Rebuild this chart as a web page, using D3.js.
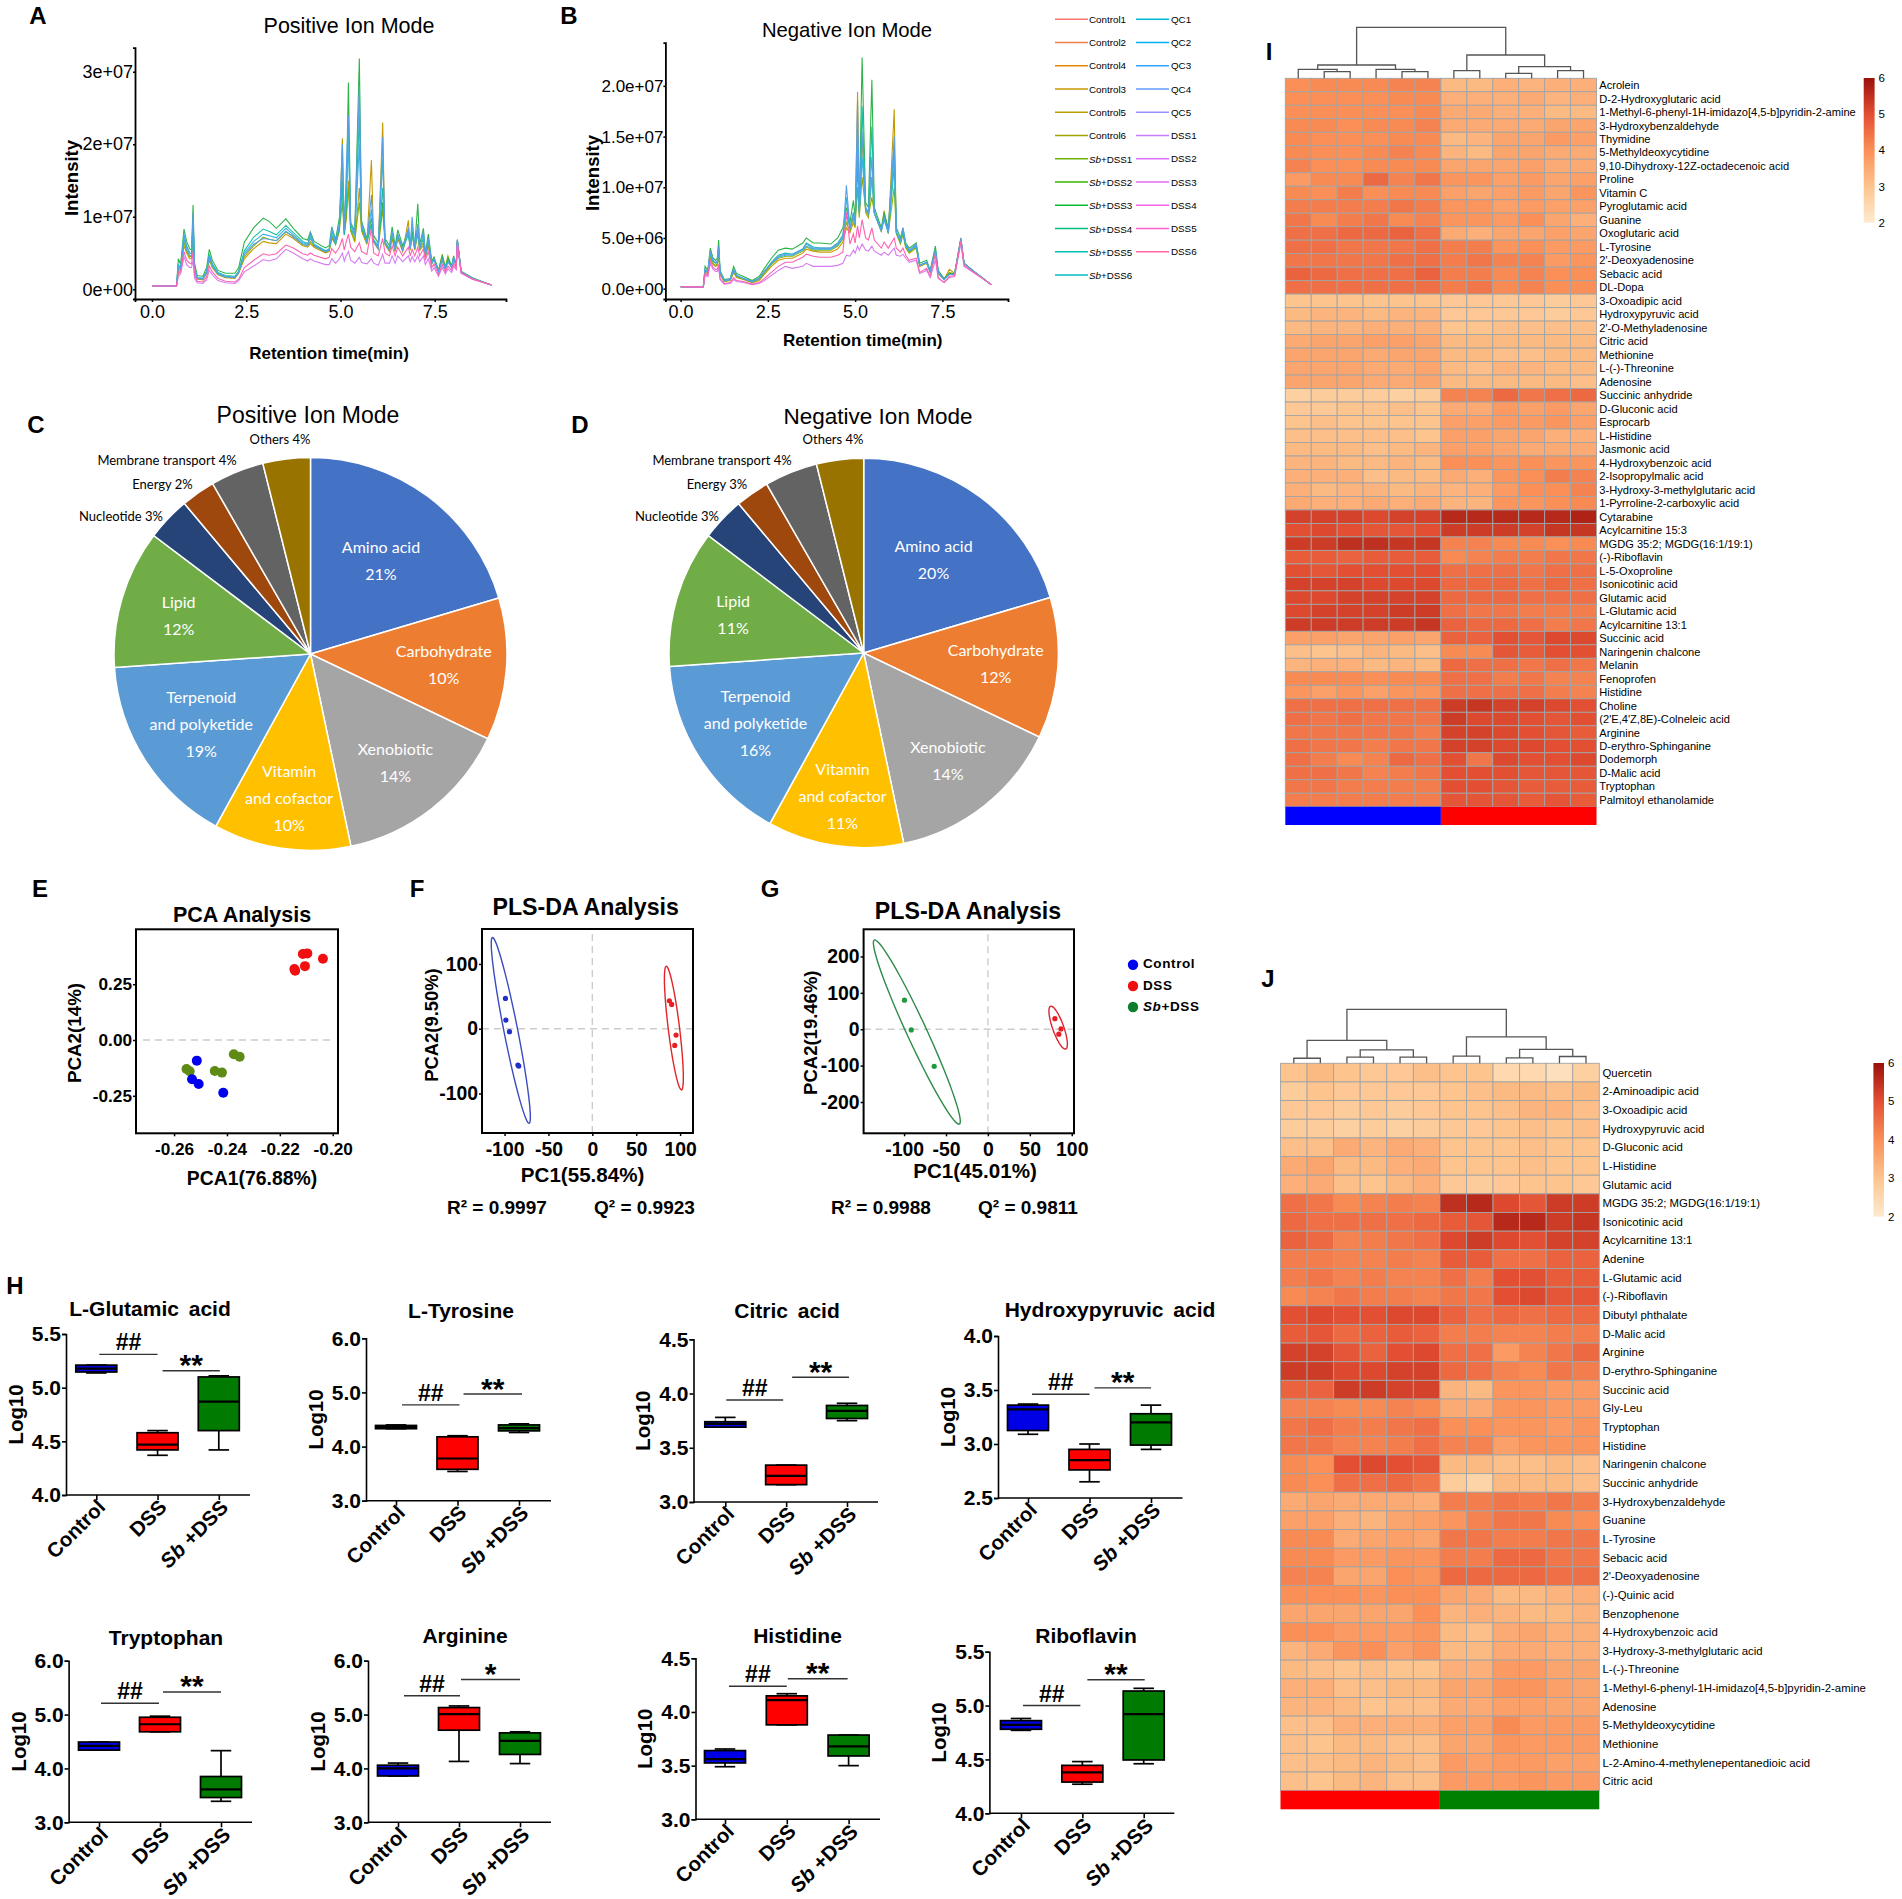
<!DOCTYPE html>
<html>
<head>
<meta charset="utf-8">
<script src="https://cdn.jsdelivr.net/npm/d3@7"></script>
<style>
  body { margin: 0; background: #fff; }
  text { font-family: "Liberation Sans", Arial, sans-serif; fill: #000; }
  .pie text { font-family: Lato, "Liberation Sans", sans-serif; }
</style>
</head>
<body>
<svg id="fig" width="1902" height="1899"></svg>
<script>
// Chromatograms, intensity in units of 1e6
const posRt = [0,0.65,0.7,0.76,0.85,0.92,1.0,1.05,1.09,1.13,
  1.2,1.35,1.45,1.52,1.6,1.75,1.95,2.2,2.3,2.45,
  2.7,2.95,3.1,3.3,3.55,3.75,4.0,4.13,4.2,4.3,
  4.6,4.7,4.77,4.87,4.97,5.05,5.1,5.15,5.21,5.27,
  5.38,5.5,5.56,5.7,5.82,5.88,6.0,6.12,6.18,6.3,
  6.37,6.45,6.52,6.65,6.8,6.85,6.9,6.97,7.05,7.1,
  7.2,7.25,7.33,7.42,7.48,7.6,7.7,7.78,7.85,7.95,
  8.0,8.07,8.1,8.2,8.5,9.0];
const posGold = [.45,.45,2,2.6,6,5,4.2,4.2,7.5,2.6,
  1.4,1.3,2.2,4,3,2,1.6,1.5,2.2,4.2,
  5.6,6.6,6.4,6.3,7.6,7,6,5.8,6.3,5.8,
  5,5.2,7,6.2,8,20.8,7.5,10,15,8,
  6.5,14,8,6.2,17.8,6.5,5.5,23,6.2,5.2,
  7,5.2,7,5.2,9.5,5.4,8,5.4,8,5.4,
  6,4.4,6,3.5,4.4,2.6,4.8,3,4.6,3,
  4.4,3.2,6.8,2.4,1.5,.6];
const posLime = [.45,.45,2.6,2.8,6.5,5.3,4.5,4.5,8,2.8,
  1.5,1.4,2.3,4.3,3.1,2.1,1.7,1.6,2.3,4.5,
  6,7.2,6.9,6.7,7.9,7.3,6.2,6,6.6,6,
  5.1,5.3,7.2,6.3,8.2,12,7.7,9.5,14,8.2,
  6.8,12,8.2,6.4,9,6.6,5.7,11,6.3,5.3,
  7.2,5.3,7.2,5.3,8,5.5,7.6,5.5,7.6,5.5,
  6.4,4.5,6.2,3.5,4.2,2.5,4.4,2.9,4.2,3,
  4.3,3.2,6.7,2.4,1.5,.6];
const posGreen = [.45,.45,4.2,3.4,8.3,6.6,5.6,5.4,11.6,3.6,
  1.9,1.8,3,5.5,4,2.6,2.2,2.2,3,6.5,
  8.5,9.8,9.4,8.4,9.7,8.4,7,6.8,7.9,6.6,
  5.7,6,8.6,6.8,9.8,15,8.2,12,28.5,9.2,
  8,31.8,9.4,7,9.8,7.4,6.4,12,7,6,
  8.6,6,8.2,6,8,6.2,8,6,11.8,6.2,
  8.4,5,7.6,3.9,4.4,2.6,4.6,3,4.4,3.2,
  4.6,3.5,6.6,2.5,1.6,.6];
const posTeal = [.45,.45,3.4,3,7.2,5.8,5,4.9,9,3,
  1.6,1.5,2.5,4.8,3.5,2.3,1.9,1.8,2.5,5.3,
  7.2,8.3,8,7.5,8.8,7.8,6.6,6.3,7,6.2,
  5.3,5.5,7.5,6.2,8.5,14,7.5,11,22,8.3,
  7.4,24,8.5,6.5,9,6.8,6,14,6.5,5.6,
  7.8,5.6,7.5,5.6,7.5,5.8,7.5,5.6,8.5,5.6,
  7,4.6,6.8,3.6,4,2.4,4.2,2.8,4,3,
  4.2,3.3,6.6,2.4,1.5,.6];
const posSky = [.45,.45,3.2,2.9,7.6,6,5,4.9,9.5,3,
  1.6,1.5,2.4,4.7,3.4,2.2,1.8,1.7,2.4,5,
  6.6,7.6,7.4,7.1,8.4,7.5,6.4,6.2,7.4,6.1,
  5.3,5.5,8,6.5,9,18,8.2,13,20,8.8,
  7.6,20,8.8,6.6,11,6.7,5.8,18,6.5,5.5,
  7.8,5.5,7.4,5.5,8.2,5.7,9,5.7,8.4,5.7,
  7.6,4.7,6.8,3.6,4.1,2.5,4,2.8,3.8,3,
  4.4,3.2,6.8,2.4,1.5,.6];
const posBlue = [.45,.45,3,2.8,7,5.4,4.7,4.6,10.5,2.8,
  1.5,1.4,2.3,4.5,3.2,2.1,1.7,1.6,2.3,4.8,
  6.2,7,6.9,6.7,8,7.2,6.2,6,7.8,6,
  5.2,5.4,8.5,6.4,8.8,20,8,15.8,24,9,
  7.5,28,9,6.5,13,6.6,5.6,21,6.4,5.4,
  8,5.4,7.6,5.4,8.5,5.6,10,5.6,9,5.6,
  8,4.7,7,3.6,4.2,2.5,4,2.8,3.8,3,
  4.4,3.2,6.9,2.4,1.5,.6];
const posViolet = [.45,.45,1.8,2.1,4.5,3.4,3,3,4,1.5,
  .9,.8,1.3,2.6,2,1.2,.9,.8,1.2,2.4,
  3.2,4.1,3.9,4.2,5.5,5,4.2,3.9,4.2,3.9,
  3.4,3.4,4.2,3.6,4.2,5,3.9,4.6,5.2,4,
  3.6,4.4,3.7,3.5,4.2,3.6,3.3,4.8,3.6,3.6,
  4.6,3.6,4.6,3.8,4.6,3.8,4.5,3.8,4.6,3.8,
  4.6,3.4,4.2,2.5,3,1.8,3,2.1,2.8,2.3,
  3.2,2.7,6.2,2.2,1.4,.6];
const posPink = [.45,.45,2.4,2.4,5.2,4,3.6,3.5,5.2,2,
  1.1,1,1.7,3.2,2.4,1.5,1.1,1,1.4,3,
  4,4.9,4.7,4.9,6.1,5.7,4.9,4.7,5,4.7,
  4.2,4.4,5.6,5,5.8,7,5.4,6.5,7.6,5.8,
  5.2,6.4,5.2,4.8,8.4,5,4.6,7,5,4.6,
  6,4.6,5.8,4.6,5.8,4.6,5.5,4.6,5.8,4.6,
  5.6,4,5.2,3,3.5,2,3.4,2.4,3.2,2.6,
  3.6,2.9,6.4,2.3,1.4,.6];

const negRt = [0,.65,.7,.78,.85,.93,1.0,1.05,1.09,1.13,
  1.25,1.42,1.52,1.6,1.8,2.05,2.25,2.4,2.6,2.8,
  3.0,3.2,3.5,3.6,3.8,4.0,4.3,4.5,4.65,4.75,
  4.85,4.95,5.0,5.07,5.12,5.2,5.3,5.38,5.48,5.55,
  5.75,5.83,5.95,6.12,6.18,6.3,6.37,6.45,6.55,6.75,
  6.85,7.05,7.15,7.3,7.38,7.55,7.7,7.85,8.03,8.12,
  8.4,8.9];
const negGold = [.2,.15,1.6,1.5,3,2.4,2.2,2.3,3.4,1.4,
  .7,.8,1.6,1.1,.9,.6,.8,1.4,2.2,2.8,
  3,3,3.5,3.9,3.7,3.6,3.6,3.9,4.6,6,
  5.5,6.5,6,19.4,7,15,7.5,7,11,7.5,
  5.6,7.7,5.4,17.7,5.4,4.4,5.4,4,3.5,4,
  2.2,2.5,1.6,3.6,1.5,.9,1.9,1.5,5,2.5,
  1.7,.4];
const negLime = [.2,.15,1.7,1.6,3.2,2.5,2.3,2.4,3.6,1.5,
  .75,.85,1.7,1.2,.95,.65,.9,1.5,2.4,3,
  3.2,3.2,3.7,4.1,3.8,3.8,3.8,4.2,4.9,6.5,
  5.7,7,6.2,10,7.2,11,7.8,7.2,9,7.5,
  5.7,7.2,5.5,10,5.5,4.5,5.5,4.1,3.6,4.1,
  2.25,2.55,1.65,3.7,1.55,.9,1.6,1.45,4.9,2.5,
  1.7,.4];
const negGreen = [.2,.15,2.2,1.8,4,3,2.8,3,4.8,1.8,
  .9,1,2.2,1.5,1.2,.8,1.2,2,3,3.8,
  4,3.9,4.5,5,4.5,4.5,4.4,5,6,8,
  6.5,8.7,7,14,8,22.8,8.5,8,20.6,8,
  6,7.5,6,14,6,5,6,4.5,4,4.5,
  2.5,2.8,1.8,4.2,1.8,1,1.5,1.5,4.8,2.5,
  1.7,.4];
const negTeal = [.2,.15,1.8,1.6,3.5,2.7,2.5,2.6,4,1.6,
  .8,.9,1.9,1.3,1,.7,1,1.7,2.6,3.3,
  3.5,3.4,3.9,4.5,4.1,4,4,4.5,5.3,7.5,
  6,7.5,6.5,12,7.5,18,8,7.5,16,7.5,
  5.8,7,5.6,12,5.6,4.6,5.6,4.2,3.7,4.2,
  2.3,2.6,1.7,3.8,1.6,.9,1.4,1.4,4.8,2.5,
  1.7,.4];
const negSky = [.2,.15,1.85,1.65,3.6,2.75,2.55,2.65,4.1,1.6,
  .8,.9,1.85,1.3,1,.7,1,1.7,2.5,3.1,
  3.3,3.3,3.8,4.2,3.9,3.9,3.9,4.3,5,9,
  5.9,7.3,6.3,15,7.4,13,7.9,7.4,11,7.4,
  5.7,6.8,5.5,13,5.5,4.7,5.8,4.3,3.7,4.3,
  2.3,2.55,1.65,3.7,1.55,.9,1.4,1.4,4.9,2.5,
  1.7,.4];
const negBlue = [.2,.15,1.9,1.7,3.7,2.8,2.6,2.7,4.2,1.6,
  .8,.9,1.9,1.3,1,.7,1,1.7,2.5,3.2,
  3.4,3.4,3.9,4.4,4,4,4,4.4,5.2,10.2,
  6,7.5,6.5,18.5,7.5,15.5,8,7.5,13,7.5,
  5.8,7,5.6,15,5.6,4.8,6,4.4,3.8,4.4,
  2.3,2.6,1.7,3.8,1.6,.9,1.4,1.4,5,2.5,
  1.7,.4];
const negViolet = [.2,.15,1.3,1.2,2.5,1.9,1.7,1.7,2,.9,
  .45,.5,.9,.7,.6,.4,.5,.8,1.3,1.8,
  2.2,2,2.2,2.5,2.2,2.2,2.2,2.3,2.5,3.3,
  3.2,3.8,3.5,4.2,3.8,4.4,3.8,3.7,4.2,3.7,
  3.3,3.6,3.3,4,3.3,3.2,3.4,3,2.6,2.8,
  1.5,1.8,1.1,2.8,1,.6,1.1,1.2,4.5,2.2,
  1.6,.4];
const negPink = [.2,.15,1.5,1.3,2.8,2.1,1.9,1.9,2.4,1,
  .5,.6,1.1,.8,.7,.45,.6,1,1.6,2.2,
  2.6,2.6,3.1,3.4,3.2,3.1,3.1,3.3,3.6,7.5,
  4.4,5.4,4.5,6.2,5,6.8,5,4.8,6,4.8,
  4,4.6,4,5,4,3.6,4,3.3,2.8,3,
  1.6,2,1.2,3.4,1.1,.6,1.2,1.3,4.7,2.3,
  1.6,.4];
const traceColors = ['#C49A00','#8DB000','#2DB34A','#19BFA5','#35B4E8','#5A9FE6','#D77CF0','#FF62B0'];

const legendLeft = ['Control1','Control2','Control4','Control3','Control5','Control6','Sb+DSS1','Sb+DSS2','Sb+DSS3','Sb+DSS4','Sb+DSS5','Sb+DSS6'];
const legendLeftColors = ['#F8766D','#EF7F4A','#E58700','#C99800','#BA9E00','#A3A500','#6BB100','#39B600','#00BA38','#00BF7D','#00C0AF','#00BCC4'];
const legendRight = ['QC1','QC2','QC3','QC4','QC5','DSS1','DSS2','DSS3','DSS4','DSS5','DSS6'];
const legendRightColors = ['#00BCD8','#00B0F6','#35A2FF','#619CFF','#9590FF','#C77CFF','#DB72FB','#E76BF3','#F564E3','#FF61CC','#FF67A4'];

// Pies: the printed percentages, and the slice shares as actually drawn (same in both pies)
const pathways = ['Amino acid','Carbohydrate','Xenobiotic','Vitamin and cofactor','Terpenoid and polyketide','Lipid','Nucleotide','Energy','Membrane transport','Others'];
const pieColors = ['#4472C4','#ED7D31','#A5A5A5','#FFC000','#5B9BD5','#70AD47','#264478','#9E480E','#636363','#997300'];
const piePos = [21,10,14,10,19,12,3,2,4,4];
const pieNeg = [20,12,14,11,16,11,3,3,4,4];
const pieShares = [20.4,11.7,14.6,11.3,15.9,11.4,3.6,2.8,4.4,3.9];

// Score plots
const pcaControl = [[-.2514,-.0925],[-.2532,-.176],[-.2507,-.197],[-.2414,-.236]];
const pcaDss = [[-.2145,.318],[-.2142,.310],[-.2113,.385],[-.2096,.388],[-.2105,.331],[-.2037,.364]];
const pcaSb = [[-.2553,-.130],[-.2541,-.140],[-.2446,-.139],[-.2419,-.146],[-.2374,-.064],[-.2352,-.075]];
const plsFControl = [[-99,46.8],[-98.5,13.4],[-94.4,-4.6],[-84.8,-56],[-83.8,-57.6]];
const plsFDss = [[87.8,43.2],[90.4,37.5],[95.4,-9.8],[93.9,-25.7]];
const plsGSb = [[-99.6,80],[-91.5,-1.8],[-64.1,-101.8]];
const plsGDss = [[79.9,29],[87.2,.9],[84.6,-13.6]];
// ellipse: centre x, centre y, major axis x, major axis y, half width along x
const ellFControl = [-92.9,-2.6,-20.8,143.5,8];
const ellFDss = [92.9,1,-8.6,95.5,6.5];
const ellGSb = [-84.8,-7.7,-50.2,253.2,13];
const ellGDss = [83.8,4.5,-8.5,59,7];

// Box plots: min, q1, median, q3, max for Control, DSS, Sb+DSS
const groups = ['Control','DSS','Sb +DSS'];
const boxColors = ['#0000E6','#FF0000','#007A00'];
const boxGlutamic = [[5.137,5.146,5.177,5.21,5.21],[4.37,4.42,4.47,4.58,4.60],[4.42,4.60,4.87,5.10,5.11]];
const boxTyrosine = [[4.33,4.33,4.36,4.39,4.40],[3.54,3.58,3.78,4.18,4.20],[4.26,4.29,4.34,4.40,4.42]];
const boxCitric = [[3.69,3.69,3.72,3.74,3.78],[3.16,3.16,3.24,3.34,3.34],[3.75,3.77,3.84,3.89,3.91]];
const boxHydroxypyruvic = [[3.09,3.125,3.32,3.36,3.37],[2.65,2.76,2.85,2.95,3.0],[2.95,2.99,3.2,3.28,3.36]];
const boxTryptophan = [[4.34,4.34,4.42,4.49,4.49],[4.68,4.68,4.82,4.95,4.97],[3.39,3.46,3.61,3.85,4.33]];
const boxArginine = [[3.86,3.86,4.0,4.06,4.10],[4.13,4.71,5.01,5.13,5.16],[4.09,4.26,4.51,4.66,4.68]];
const boxHistidine = [[3.49,3.525,3.56,3.64,3.655],[3.88,3.88,4.11,4.15,4.17],[3.5,3.59,3.68,3.785,3.785]];
const boxRiboflavin = [[4.77,4.78,4.82,4.86,4.88],[4.27,4.29,4.38,4.445,4.48],[4.46,4.495,4.92,5.135,5.16]];

// Heatmaps
const heatILabels = ['Acrolein','D-2-Hydroxyglutaric acid','1-Methyl-6-phenyl-1H-imidazo[4,5-b]pyridin-2-amine','3-Hydroxybenzaldehyde','Thymidine','5-Methyldeoxycytidine','9,10-Dihydroxy-12Z-octadecenoic acid','Proline','Vitamin C','Pyroglutamic acid','Guanine','Oxoglutaric acid','L-Tyrosine',"2'-Deoxyadenosine",'Sebacic acid','DL-Dopa','3-Oxoadipic acid','Hydroxypyruvic acid',"2'-O-Methyladenosine",'Citric acid','Methionine','L-(-)-Threonine','Adenosine','Succinic anhydride','D-Gluconic acid','Esprocarb','L-Histidine','Jasmonic acid','4-Hydroxybenzoic acid','2-Isopropylmalic acid','3-Hydroxy-3-methylglutaric acid','1-Pyrroline-2-carboxylic acid','Cytarabine','Acylcarnitine 15:3','MGDG 35:2; MGDG(16:1/19:1)','(-)-Riboflavin','L-5-Oxoproline','Isonicotinic acid','Glutamic acid','L-Glutamic acid','Acylcarnitine 13:1','Succinic acid','Naringenin chalcone','Melanin','Fenoprofen','Histidine','Choline',"(2'E,4'Z,8E)-Colneleic acid",'Arginine','D-erythro-Sphinganine','Dodemorph','D-Malic acid','Tryptophan','Palmitoyl ethanolamide'];
const heatIValues = [
[4.0,4.1,4.1,4.1,4.2,4.2,3.2,3.2,3.4,3.3,3.4,3.4],
[4.0,4.0,4.0,4.0,4.1,4.1,3.4,3.4,3.4,3.5,3.3,3.4],
[4.0,4.0,4.0,4.0,4.0,4.1,3.5,3.5,3.4,3.4,3.2,3.2],
[4.1,4.1,4.0,4.1,4.1,4.2,3.5,3.5,3.5,3.5,3.6,3.6],
[4.1,4.0,4.0,4.0,4.1,4.1,3.2,3.3,3.6,3.6,3.8,3.7],
[4.1,4.0,4.0,4.1,4.2,4.1,3.3,3.2,3.6,3.6,3.5,3.5],
[4.2,4.0,4.0,4.1,4.1,4.1,3.6,3.6,3.6,3.7,3.5,3.5],
[3.8,4.1,4.1,4.6,4.2,4.4,3.9,3.9,3.7,3.8,3.6,3.7],
[4.1,4.0,4.3,4.0,4.1,4.1,3.7,3.6,3.7,3.8,3.6,3.9],
[4.3,4.3,4.3,4.3,4.4,4.3,3.9,3.9,3.7,3.8,3.7,3.7],
[4.4,4.1,4.3,4.4,4.1,4.2,3.9,3.9,3.8,4.0,3.6,3.4],
[4.5,4.5,4.6,4.6,4.7,4.5,3.5,3.4,3.6,3.6,3.7,3.6],
[4.5,4.5,4.4,4.4,4.4,4.5,4.3,4.3,3.9,4.0,3.8,3.8],
[4.4,4.4,4.4,4.4,4.5,4.5,4.3,4.4,4.2,4.2,3.8,3.9],
[4.7,4.6,4.5,4.5,4.5,4.7,4.3,4.3,4.1,4.2,4.0,4.0],
[4.5,4.5,4.5,4.5,4.5,4.5,4.3,4.4,4.1,4.2,4.0,4.0],
[3.0,3.0,3.0,3.0,3.0,3.0,2.9,2.9,2.9,2.9,2.8,2.9],
[3.2,3.3,3.3,3.2,3.3,3.3,2.9,2.9,2.9,2.9,2.8,2.9],
[3.2,3.3,3.3,3.4,3.4,3.4,3.0,3.0,3.1,3.1,3.1,3.1],
[3.5,3.6,3.6,3.7,3.7,3.6,3.2,3.2,3.2,3.2,3.2,3.2],
[3.6,3.6,3.6,3.5,3.6,3.6,3.2,3.2,3.1,3.1,3.2,3.2],
[3.6,3.6,3.6,3.5,3.5,3.6,3.2,3.1,3.3,3.3,3.2,3.2],
[3.6,3.6,3.6,3.5,3.5,3.6,3.2,3.2,3.2,3.2,3.2,3.1],
[2.7,2.8,2.8,2.8,2.7,2.8,4.2,4.2,4.6,4.4,4.5,4.6],
[2.9,2.9,3.0,3.0,3.1,3.0,3.5,3.5,3.8,3.7,3.8,3.6],
[3.0,3.1,3.0,3.0,3.0,3.0,3.7,3.7,3.8,3.8,3.9,3.7],
[3.1,3.1,3.1,3.1,3.1,3.0,3.7,3.7,3.6,3.6,3.4,3.4],
[3.2,3.2,3.2,3.1,3.2,3.3,3.7,3.7,3.6,3.5,3.5,3.5],
[3.3,3.3,3.2,3.2,3.3,3.2,4.0,4.0,3.9,4.0,3.9,3.9],
[3.4,3.4,3.4,3.1,3.2,3.2,3.5,3.4,3.9,4.0,4.3,4.2],
[3.4,3.2,3.3,3.3,3.2,3.3,3.3,3.4,3.8,4.0,4.0,4.2],
[3.5,3.4,3.4,3.5,3.4,3.5,3.3,3.3,3.9,3.9,4.0,4.1],
[5.2,5.2,5.2,5.1,5.2,5.2,5.6,5.6,5.6,5.6,5.6,5.7],
[5.0,5.1,5.0,4.9,4.9,5.0,5.3,5.3,5.3,5.2,5.4,5.4],
[5.3,5.3,5.5,5.5,5.4,5.4,4.2,4.2,4.1,4.1,4.0,4.1],
[4.8,4.8,4.7,4.8,4.8,4.8,4.1,4.2,4.3,4.3,4.4,4.4],
[5.0,4.9,5.0,5.0,5.0,5.0,4.5,4.5,4.5,4.4,4.5,4.5],
[5.2,5.2,5.2,5.1,5.1,5.1,4.6,4.6,4.6,4.5,4.6,4.5],
[5.1,5.1,5.2,5.2,5.2,5.2,4.6,4.6,4.6,4.5,4.5,4.5],
[5.1,5.2,5.2,5.2,5.3,5.3,4.5,4.4,4.4,4.3,4.3,4.3],
[5.3,5.3,5.3,5.3,5.3,5.4,4.7,4.6,4.6,4.5,4.3,4.4],
[3.7,3.7,3.6,3.6,3.7,3.6,4.7,4.7,5.0,4.9,5.1,5.1],
[3.1,3.0,3.1,3.3,3.2,3.1,4.1,4.1,4.9,4.8,5.0,5.0],
[3.3,3.4,3.4,3.2,3.3,3.2,4.6,4.5,4.5,4.4,4.5,4.4],
[4.1,4.1,4.1,4.0,4.1,4.1,4.5,4.5,4.3,4.4,4.2,4.2],
[3.9,3.7,3.9,3.7,3.9,3.9,4.5,4.5,4.5,4.5,4.3,4.2],
[4.5,4.5,4.5,4.5,4.5,4.5,5.3,5.4,5.2,5.2,5.1,5.0],
[4.5,4.4,4.5,4.4,4.4,4.4,5.3,5.1,5.1,5.0,4.9,5.0],
[4.4,4.4,4.4,4.4,4.4,4.3,5.2,5.2,5.1,5.0,4.9,4.8],
[4.5,4.4,4.4,4.3,4.4,4.4,5.2,5.2,5.1,5.1,5.0,5.0],
[4.5,4.3,4.1,4.2,4.6,4.5,5.0,4.4,5.1,5.0,5.0,5.1],
[4.5,4.5,4.4,4.2,4.3,4.4,5.0,5.0,5.0,4.9,4.9,4.9],
[4.4,4.4,4.3,4.3,4.3,4.3,5.0,5.0,4.9,4.8,4.8,4.8],
[4.3,4.3,4.3,4.3,4.3,4.3,4.9,4.9,4.9,4.8,4.9,4.8]];
const heatJLabels = ['Quercetin','2-Aminoadipic acid','3-Oxoadipic acid','Hydroxypyruvic acid','D-Gluconic acid','L-Histidine','Glutamic acid','MGDG 35:2; MGDG(16:1/19:1)','Isonicotinic acid','Acylcarnitine 13:1','Adenine','L-Glutamic acid','(-)-Riboflavin','Dibutyl phthalate','D-Malic acid','Arginine','D-erythro-Sphinganine','Succinic acid','Gly-Leu','Tryptophan','Histidine','Naringenin chalcone','Succinic anhydride','3-Hydroxybenzaldehyde','Guanine','L-Tyrosine','Sebacic acid',"2'-Deoxyadenosine",'(-)-Quinic acid','Benzophenone','4-Hydroxybenzoic acid','3-Hydroxy-3-methylglutaric acid','L-(-)-Threonine','1-Methyl-6-phenyl-1H-imidazo[4,5-b]pyridin-2-amine','Adenosine','5-Methyldeoxycytidine','Methionine','L-2-Amino-4-methylenepentanedioic acid','Citric acid'];
const heatJValues = [
[3.0,3.2,3.0,2.9,2.9,3.1,3.0,3.0,2.5,2.5,2.3,2.7],
[2.8,3.0,2.9,2.9,2.9,2.9,3.0,3.1,3.2,3.2,3.1,3.2],
[2.9,2.9,2.8,2.9,2.8,2.9,3.0,3.0,3.1,3.3,3.3,3.1],
[2.8,2.8,2.7,2.8,2.7,2.8,2.9,2.9,3.0,3.1,3.0,3.1],
[3.1,3.1,3.5,3.3,3.5,3.4,3.0,3.0,3.0,3.1,3.0,3.0],
[3.5,3.6,3.2,3.2,3.4,3.5,3.0,3.0,3.0,3.1,3.0,3.0],
[3.4,3.5,3.1,3.0,3.2,3.4,2.9,2.8,2.9,3.0,3.0,2.9],
[4.5,4.4,4.1,4.2,4.3,4.2,5.5,5.6,5.1,4.9,5.3,5.3],
[4.6,4.5,4.5,4.5,4.5,4.6,4.8,4.9,5.6,5.6,5.3,5.4],
[4.7,4.6,4.2,4.3,4.4,4.5,5.1,5.3,5.1,5.0,5.2,5.2],
[4.3,4.3,4.2,4.2,4.3,4.2,4.8,4.8,4.5,4.5,4.7,4.7],
[4.3,4.4,4.2,4.3,4.2,4.2,4.5,4.3,5.0,5.0,4.8,4.8],
[4.1,4.2,4.4,4.3,4.3,4.2,4.4,4.4,5.0,5.1,4.9,4.9],
[5.0,5.1,5.0,5.0,5.1,5.1,4.7,4.5,4.6,4.5,4.6,4.6],
[4.8,4.9,4.6,4.7,4.8,4.7,4.3,4.3,4.2,4.2,4.3,4.3],
[5.2,5.2,4.9,4.7,5.0,5.1,4.5,4.5,3.8,4.2,4.4,4.6],
[5.3,5.3,5.1,5.1,5.2,5.2,4.6,4.5,4.2,4.1,4.4,4.3],
[4.7,4.7,5.3,5.3,5.2,5.2,3.3,3.2,3.9,3.9,3.8,3.8],
[4.2,4.2,4.1,4.1,4.2,4.1,3.5,3.5,3.9,3.9,3.8,3.8],
[4.4,4.5,4.3,4.3,4.4,4.5,4.0,4.0,3.9,3.9,3.8,3.9],
[4.4,4.4,4.2,4.2,4.3,4.5,4.2,4.2,3.7,3.9,3.9,3.9],
[4.1,4.0,5.0,5.1,5.0,4.9,3.2,3.2,3.1,3.1,3.2,3.1],
[4.1,4.0,4.5,4.5,4.6,4.4,2.8,2.6,3.2,3.2,3.2,3.1],
[3.5,3.6,3.5,3.5,3.5,3.4,4.3,4.3,4.4,4.3,4.4,4.3],
[3.7,3.7,3.4,3.3,3.6,3.7,3.9,4.2,4.4,4.4,4.1,4.0],
[4.1,4.1,3.5,3.6,3.7,3.6,4.4,4.4,4.3,4.3,4.4,4.4],
[4.1,4.1,3.8,3.8,3.9,3.9,4.3,4.3,4.6,4.6,4.4,4.4],
[4.2,4.2,3.6,3.6,4.0,3.9,4.6,4.6,4.6,4.6,4.5,4.5],
[4.0,4.0,4.0,3.9,4.0,4.0,3.6,3.5,3.2,3.2,3.3,3.4],
[3.6,3.6,3.6,3.6,3.6,4.0,3.3,3.4,3.3,3.2,3.2,3.3],
[4.0,4.0,3.8,3.8,3.8,3.9,3.2,3.1,3.5,3.6,3.4,3.4],
[3.3,3.5,3.9,4.0,3.7,3.9,3.2,3.2,3.5,3.5,3.4,3.4],
[3.2,3.1,3.0,3.1,3.0,3.0,3.4,3.4,3.8,3.8,3.6,3.6],
[3.4,3.4,3.1,3.1,3.2,3.2,3.6,3.6,3.9,3.9,3.7,3.6],
[3.3,3.3,3.2,3.0,3.1,3.1,3.5,3.5,3.7,3.7,3.6,3.6],
[3.1,3.1,3.4,3.4,3.4,3.4,3.7,3.7,4.1,3.8,3.8,3.8],
[3.1,3.0,3.2,3.2,3.1,3.1,3.6,3.6,3.9,3.8,3.8,3.8],
[3.1,3.1,3.2,3.3,3.2,3.1,3.8,3.7,3.8,3.8,3.7,3.7],
[3.1,3.0,3.2,3.3,3.1,3.1,3.8,3.8,3.8,3.9,3.8,3.8]];
// dendrograms: [left, right, height]; a number is a column
const dendroI = [[[0,[1,2,6.7],9],[3,[4,5,6.7],9],13.3],[[6,7,7.7],[[8,9,5],[10,11,7.7],11.7],23.3],51];
const dendroJ = [[[0,1,5],[[2,3,6],[4,5,6],13.3],22.7],[[6,7,7],[[8,9,5.3],[10,11,6.7],13.7],26],53.3];

const heatColor = d3.scaleLinear().domain([2,3,4,5,6])
  .range(['#FEEBCF','#FDC48E','#FA9058','#E34F33','#99100A']);

const svg = d3.select('#fig');

function label(x, y, str, size, opts = {}) {
  const t = svg.append('text').attr('x', x).attr('y', y)
    .attr('text-anchor', opts.anchor || 'middle')
    .attr('dominant-baseline', 'central')
    .style('font-size', size + 'px')
    .style('font-weight', opts.bold ? 'bold' : 'normal')
    .text(str);
  if (opts.rotate) t.attr('transform', `rotate(${opts.rotate},${x},${y})`);
  return t;
}

// Sb in italics, as in the figure
function sbText(sel, str) {
  sel.text(null);
  const rest = str.replace('Sb', '');
  sel.append('tspan').style('font-style', 'italic').text('Sb');
  sel.append('tspan').text(rest);
}

// Panel letters
[['A',38,15],['B',569,15],['C',36,424],['D',580,424],['E',40,888],['F',417,888],['G',770,888],['H',15,1285],['I',1269,51],['J',1268,978]]
  .forEach(d => label(d[1], d[2], d[0], 24, {bold: true}));

// ---- Chromatograms
function chromatogram(cfg) {
  const g = svg.append('g');
  const x = d3.scaleLinear().domain(cfg.xDomain).range(cfg.xRange);
  const y = d3.scaleLinear().domain(cfg.yDomain).range(cfg.yRange);
  const line = d3.line().x((d, i) => x(cfg.rt[i])).y(d => y(d));
  cfg.traces.forEach((vals, i) => {
    g.append('path').attr('d', line(vals)).attr('fill', 'none')
      .attr('stroke', traceColors[i]).attr('stroke-width', 1.1);
  });
  const gx = g.append('g').attr('transform', `translate(0,${cfg.yRange[0]})`)
    .call(d3.axisBottom(x).tickValues([0,2.5,5,7.5]).tickFormat(d3.format('.1f')).tickSize(3).tickPadding(3));
  const gy = g.append('g').attr('transform', `translate(${cfg.xRange[0]},0)`)
    .call(d3.axisLeft(y).tickValues(cfg.yTicks).tickFormat((d, i) => cfg.yLabels[i]).tickSize(2).tickPadding(0));
  [gx, gy].forEach(a => {
    a.select('.domain').attr('stroke-width', 1.8);
    a.selectAll('.tick line').attr('stroke-width', 1.5);
  });
  gx.selectAll('text').style('font-size', '18px');
  gy.selectAll('text').style('font-size', cfg.yFont + 'px');
}

chromatogram({
  rt: posRt, traces: [posGold, posLime, posGreen, posTeal, posSky, posBlue, posViolet, posPink],
  xDomain: [-0.45, 9.39], xRange: [135, 506], yDomain: [-1.34, 33.3], yRange: [299, 47.7],
  yTicks: [0,10,20,30], yLabels: ['0e+00','1e+07','2e+07','3e+07'], yFont: 18
});
chromatogram({
  rt: negRt, traces: [negGold, negLime, negGreen, negTeal, negSky, negBlue, negViolet, negPink],
  xDomain: [-0.436, 9.38], xRange: [665.4, 1008], yDomain: [-1.02, 24.26], yRange: [299, 42.7],
  yTicks: [0,5,10,15,20], yLabels: ['0.0e+00','5.0e+06','1.0e+07','1.5e+07','2.0e+07'], yFont: 17
});
label(349, 26, 'Positive Ion Mode', 21.5);
label(847, 30, 'Negative Ion Mode', 20.3);
label(71, 178, 'Intensity', 18.5, {bold: true, rotate: -90});
label(592.5, 173, 'Intensity', 18.5, {bold: true, rotate: -90});
label(329, 353, 'Retention time(min)', 17, {bold: true});
label(862.7, 340.7, 'Retention time(min)', 17, {bold: true});

// Legend
function chromLegend(names, colors, x1, x2, textX) {
  const ly = d3.scalePoint().domain(d3.range(12)).range([19.3, 275]);
  names.forEach((n, i) => {
    svg.append('line').attr('x1', x1).attr('x2', x2).attr('y1', ly(i)).attr('y2', ly(i))
      .attr('stroke', colors[i]).attr('stroke-width', 1.5);
    const t = label(textX, ly(i), n, 9.8, {anchor: 'start'});
    if (n.startsWith('Sb')) sbText(t, n);
  });
}
chromLegend(legendLeft, legendLeftColors, 1055, 1088, 1089);
chromLegend(legendRight, legendRightColors, 1136, 1169, 1171);

// ---- Pies
function pieChart(values, cx, cy, r) {
  const g = svg.append('g').attr('class', 'pie').attr('transform', `translate(${cx},${cy})`);
  const arcs = d3.pie().sort(null)(pieShares);
  const arc = d3.arc().innerRadius(0).outerRadius(r);
  g.selectAll('path').data(arcs).join('path')
    .attr('d', arc)
    .attr('fill', (d, i) => pieColors[i])
    .attr('stroke', '#fff').attr('stroke-width', 1.5);
  const labelLines = [['Amino acid'],['Carbohydrate'],['Xenobiotic'],['Vitamin','and cofactor'],['Terpenoid','and polyketide'],['Lipid']];
  const labelRad = [.6,.68,.7,.74,.66,.7];
  labelLines.forEach((lines, i) => {
    const [px, py] = d3.arc().innerRadius(r * labelRad[i]).outerRadius(r * labelRad[i]).centroid(arcs[i]);
    const rows = lines.concat([values[i] + '%']);
    rows.forEach((s, k) => {
      g.append('text').attr('x', px).attr('y', py + (k - (rows.length - 1) / 2) * 27)
        .attr('text-anchor', 'middle').attr('dominant-baseline', 'central')
        .style('font-size', '16px').style('fill', '#fff').text(s);
    });
  });
}
function pieOuter(x, y, str) {
  label(x, y, str, 13).style('font-family', 'Lato');
}
pieChart(piePos, 310.5, 654, 196.5);
pieChart(pieNeg, 863.7, 653, 194.7);
label(308, 415, 'Positive Ion Mode', 23);
label(878, 416, 'Negative Ion Mode', 22.5);
pieOuter(121, 515.5, 'Nucleotide 3%');
pieOuter(162.5, 484, 'Energy 2%');
pieOuter(167, 460, 'Membrane transport 4%');
pieOuter(280, 439, 'Others 4%');
pieOuter(677, 515.5, 'Nucleotide 3%');
pieOuter(717, 484, 'Energy 3%');
pieOuter(722, 460, 'Membrane transport 4%');
pieOuter(833, 439, 'Others 4%');

// ---- Score plots
function scorePlot(cfg) {
  const g = svg.append('g');
  const x = d3.scaleLinear().domain(cfg.xDomain).range(cfg.xRange);
  const y = d3.scaleLinear().domain(cfg.yDomain).range(cfg.yRange);
  const dash = '#cccccc';
  g.append('line').attr('x1', cfg.hLine ? cfg.hLine[0] : cfg.xRange[0]).attr('x2', cfg.hLine ? cfg.hLine[1] : cfg.xRange[1])
    .attr('y1', y(0)).attr('y2', y(0)).attr('stroke', dash).attr('stroke-width', 1.6).attr('stroke-dasharray', '7,5');
  if (cfg.vLine) {
    g.append('line').attr('x1', x(0)).attr('x2', x(0)).attr('y1', cfg.yRange[0]).attr('y2', cfg.yRange[1])
      .attr('stroke', dash).attr('stroke-width', 1.4).attr('stroke-dasharray', '7,5');
  }
  const ell = d3.line().x(d => x(d[0])).y(d => y(d[1])).curve(d3.curveCardinalClosed);
  (cfg.ellipses || []).forEach(e => {
    const pts = d3.range(48).map(k => {
      const a = k / 48 * 2 * Math.PI;
      return [e.p[0] + e.p[2] * Math.cos(a) + e.p[4] * Math.sin(a), e.p[1] + e.p[3] * Math.cos(a)];
    });
    g.append('path').attr('d', ell(pts)).attr('fill', 'none').attr('stroke', e.color).attr('stroke-width', 1.4);
  });
  cfg.points.forEach(s => {
    g.selectAll(null).data(s.data).join('circle')
      .attr('cx', d => x(d[0])).attr('cy', d => y(d[1])).attr('r', s.r).attr('fill', s.color);
  });
  g.append('rect').attr('x', cfg.xRange[0]).attr('y', cfg.yRange[1])
    .attr('width', cfg.xRange[1] - cfg.xRange[0]).attr('height', cfg.yRange[0] - cfg.yRange[1])
    .attr('fill', 'none').attr('stroke', '#000').attr('stroke-width', 2);
  const gx = g.append('g').attr('transform', `translate(0,${cfg.yRange[0]})`)
    .call(d3.axisBottom(x).tickValues(cfg.xTicks).tickFormat(cfg.xFormat).tickSize(3).tickPadding(6));
  const gy = g.append('g').attr('transform', `translate(${cfg.xRange[0]},0)`)
    .call(d3.axisLeft(y).tickValues(cfg.yTicks).tickFormat(cfg.yFormat).tickSize(3).tickPadding(1));
  [gx, gy].forEach(a => {
    a.select('.domain').remove();
    a.selectAll('.tick line').attr('stroke-width', 1.5);
    a.selectAll('text').style('font-size', cfg.tickFont + 'px').style('font-weight', 'bold');
  });
}
// the figure uses a plain hyphen for negative ticks
const fmt2 = d => d3.format('.2f')(d).replace('\u2212', '-');
const fmtInt = d => d3.format('d')(d).replace('\u2212', '-');
scorePlot({
  xDomain: [-0.2744, -0.198], xRange: [136, 338], yDomain: [-0.418, 0.496], yRange: [1133.3, 929.3],
  hLine: [143, 334],
  xTicks: [-.26,-.24,-.22,-.20], yTicks: [-.25,0,.25], xFormat: fmt2, yFormat: fmt2, tickFont: 17.2,
  points: [{data: pcaSb, color: '#5E8A16', r: 5}, {data: pcaControl, color: '#0000EE', r: 5}, {data: pcaDss, color: '#F01010', r: 5}]
});
scorePlot({
  xDomain: [-125.7, 114.7], xRange: [482, 693], yDomain: [-161, 154], yRange: [1133, 929],
  vLine: true, xTicks: [-100,-50,0,50,100], yTicks: [-100,0,100], xFormat: fmtInt, yFormat: fmtInt, tickFont: 19.4,
  ellipses: [{p: ellFControl, color: '#3B4CC0'}, {p: ellFDss, color: '#E0252B'}],
  points: [{data: plsFControl, color: '#2030C8', r: 2.6}, {data: plsFDss, color: '#E81E25', r: 2.6}]
});
scorePlot({
  xDomain: [-148.3, 102.7], xRange: [863.6, 1074], yDomain: [-286, 274.7], yRange: [1133.3, 929.3],
  vLine: true, xTicks: [-100,-50,0,50,100], yTicks: [-200,-100,0,100,200], xFormat: fmtInt, yFormat: fmtInt, tickFont: 19.4,
  ellipses: [{p: ellGSb, color: '#2E8B4A'}, {p: ellGDss, color: '#D9262E'}],
  points: [{data: plsGSb, color: '#1C9A3C', r: 2.6}, {data: plsGDss, color: '#E81E25', r: 2.6}]
});
label(242, 915, 'PCA Analysis', 21.5, {bold: true});
label(585.7, 906.7, 'PLS-DA Analysis', 23.2, {bold: true});
label(968, 910.7, 'PLS-DA Analysis', 23.2, {bold: true});
label(252, 1178, 'PCA1(76.88%)', 19.4, {bold: true});
label(582.6, 1174, 'PC1(55.84%)', 20.6, {bold: true});
label(975, 1170, 'PC1(45.01%)', 20.6, {bold: true});
label(74, 1033, 'PCA2(14%)', 18.8, {bold: true, rotate: -90});
label(431, 1025, 'PCA2(9.50%)', 18.4, {bold: true, rotate: -90});
label(810.7, 1032.7, 'PCA2(19.46%)', 18.5, {bold: true, rotate: -90});
label(447, 1207, 'R² = 0.9997', 19, {bold: true, anchor: 'start'});
label(594, 1207, 'Q² = 0.9923', 19, {bold: true, anchor: 'start'});
label(831, 1207, 'R² = 0.9988', 19, {bold: true, anchor: 'start'});
label(978, 1207, 'Q² = 0.9811', 19, {bold: true, anchor: 'start'});
// legend of the score plots
[['Control','#0000EE',964.7],['DSS','#F01010',986],['Sb+DSS','#0E7E2C',1007]].forEach(d => {
  svg.append('circle').attr('cx', 1133).attr('cy', d[2]).attr('r', 5.2).attr('fill', d[1]);
  const t = label(1143, d[2] - 1, d[0], 13.5, {bold: true, anchor: 'start'}).style('letter-spacing', '0.6px');
  if (d[0].startsWith('Sb')) sbText(t, d[0]);
});

// ---- Box plots
function boxPlot(p) {
  const g = svg.append('g');
  const x = d3.scalePoint().domain(groups).range([p.c0, p.c2]);
  const y = d3.scaleLinear().domain(p.domain).range([p.yBottom, p.yTop]);
  const bw = 41;
  p.boxes.forEach((b, i) => {
    const cx = x(groups[i]);
    const bg = g.append('g').attr('stroke', '#000').attr('stroke-width', 1.7);
    bg.append('line').attr('x1', cx).attr('x2', cx).attr('y1', y(b[0])).attr('y2', y(b[4]));
    [b[0], b[4]].forEach(v => bg.append('line').attr('x1', cx - bw / 4).attr('x2', cx + bw / 4).attr('y1', y(v)).attr('y2', y(v)));
    bg.append('rect').attr('x', cx - bw / 2).attr('width', bw).attr('y', y(b[3])).attr('height', y(b[1]) - y(b[3]))
      .attr('fill', boxColors[i]);
    bg.append('line').attr('x1', cx - bw / 2).attr('x2', cx + bw / 2).attr('y1', y(b[2])).attr('y2', y(b[2])).attr('stroke-width', 2.2);
  });
  const gy = g.append('g').attr('transform', `translate(${p.x0},0)`)
    .call(d3.axisLeft(y).tickValues(p.ticks).tickFormat(d3.format('.1f')).tickSize(4).tickPadding(1));
  gy.select('.domain').attr('stroke-width', 1.6);
  gy.selectAll('.tick line').attr('stroke-width', 1.6);
  gy.selectAll('text').style('font-size', '21px').style('font-weight', 'bold');
  const gx = g.append('g').attr('transform', `translate(0,${p.yBottom})`)
    .call(d3.axisBottom(x).tickSize(5).tickFormat(''));
  gx.select('.domain').remove();
  gx.selectAll('.tick line').attr('stroke-width', 1.6);
  gx.append('line').attr('x1', p.x0).attr('x2', p.xEnd).attr('stroke', '#000').attr('stroke-width', 1.6);
  groups.forEach(c => {
    const tx = x(c) + 5, ty = p.yBottom + 8;
    const t = g.append('text').attr('x', tx).attr('y', ty).attr('text-anchor', 'end')
      .attr('dominant-baseline', 'central')
      .attr('transform', `rotate(-45,${tx},${ty})`)
      .style('font-size', '20.5px').style('font-weight', 'bold').text(c);
    if (c.startsWith('Sb')) sbText(t, c);
  });
  p.sig.forEach((s, i) => {
    const x1 = x(groups[i]) + s[1], x2 = x(groups[i + 1]) + s[2];
    g.append('line').attr('x1', x1).attr('x2', x2).attr('y1', y(s[0])).attr('y2', y(s[0]))
      .attr('stroke', '#333').attr('stroke-width', 1.4);
    g.append('text').attr('x', (x1 + x2) / 2).attr('y', y(s[0]) - (s[3] === '##' ? 12 : 6))
      .attr('text-anchor', 'middle').attr('dominant-baseline', 'central')
      .style('font-size', s[3] === '##' ? '23px' : '30px').style('font-weight', 'bold').text(s[3]);
  });
  label(p.titleX, p.titleY, p.title, 21, {bold: true}).style('word-spacing', '4px');
  label(p.x0 - 50, (p.yTop + p.yBottom) / 2, 'Log10', 20.4, {bold: true, rotate: -90});
}
[
  {title: 'L-Glutamic acid', titleX: 150, titleY: 1308, boxes: boxGlutamic, domain: [4,5.5], ticks: [4,4.5,5,5.5], x0: 66, xEnd: 250, yBottom: 1495, yTop: 1334, c0: 96.3, c2: 218.8,
    sig: [[5.31,3,0,'##'],[5.158,5,1,'**']]},
  {title: 'L-Tyrosine', titleX: 461, titleY: 1310.7, boxes: boxTyrosine, domain: [3,6], ticks: [3,4,5,6], x0: 366, xEnd: 551, yBottom: 1500.7, yTop: 1338.3, c0: 396, c2: 519,
    sig: [[4.77,6,2,'##'],[4.97,6,3,'**']]},
  {title: 'Citric acid', titleX: 787, titleY: 1310, boxes: boxCitric, domain: [3,4.5], ticks: [3,3.5,4,4.5], x0: 693.5, xEnd: 878, yBottom: 1502, yTop: 1339.3, c0: 725.3, c2: 847,
    sig: [[3.94,1,-3,'##'],[4.15,6,2,'**']]},
  {title: 'Hydroxypyruvic acid', titleX: 1110, titleY: 1309, boxes: boxHydroxypyruvic, domain: [2.5,4], ticks: [2.5,3,3.5,4], x0: 998, xEnd: 1182.5, yBottom: 1498, yTop: 1336, c0: 1028, c2: 1151,
    sig: [[3.46,4,0,'##'],[3.52,5,0,'**']]},
  {title: 'Tryptophan', titleX: 166, titleY: 1637.7, boxes: boxTryptophan, domain: [3,6], ticks: [3,4,5,6], x0: 68.6, xEnd: 252, yBottom: 1822.3, yTop: 1660.7, c0: 99, c2: 221,
    sig: [[5.21,2,-1,'##'],[5.42,3,0,'**']]},
  {title: 'Arginine', titleX: 465, titleY: 1635, boxes: boxArginine, domain: [3,6], ticks: [3,4,5,6], x0: 368, xEnd: 551, yBottom: 1822.3, yTop: 1660.7, c0: 398, c2: 520,
    sig: [[5.35,6,1,'##'],[5.65,2,0,'*']]},
  {title: 'Histidine', titleX: 797.5, titleY: 1635, boxes: boxHistidine, domain: [3,4.5], ticks: [3,3.5,4,4.5], x0: 695.5, xEnd: 880, yBottom: 1819.3, yTop: 1658.3, c0: 725, c2: 848.6,
    sig: [[4.24,4,0,'##'],[4.31,1,-1,'**']]},
  {title: 'Riboflavin', titleX: 1086, titleY: 1635, boxes: boxRiboflavin, domain: [4,5.5], ticks: [4,4.5,5,5.5], x0: 989.4, xEnd: 1174.3, yBottom: 1813.3, yTop: 1651.7, c0: 1021, c2: 1143.7,
    sig: [[5.0,2,-2,'##'],[5.24,5,1,'**']]}
].forEach(boxPlot);

// ---- Heatmaps
function heatmap(cfg) {
  const g = svg.append('g');
  const x = d3.scaleBand().domain(d3.range(12)).range([cfg.left, cfg.right]);
  const y = d3.scaleBand().domain(d3.range(cfg.values.length)).range([cfg.top, cfg.bottom]);
  cfg.values.forEach((row, r) => {
    g.selectAll(null).data(row).join('rect')
      .attr('x', (d, c) => x(c)).attr('y', y(r))
      .attr('width', x.bandwidth()).attr('height', y.bandwidth())
      .attr('fill', d => heatColor(d))
      .attr('stroke', '#A3A3A3').attr('stroke-width', 0.9);
    label(cfg.labelX, y(r) + y.bandwidth() / 2, cfg.labels[r], cfg.labelFont, {anchor: 'start'});
  });
  // annotation bar
  cfg.bar.forEach((color, i) => {
    g.append('rect').attr('x', x(i * 6)).attr('y', cfg.bottom)
      .attr('width', x.bandwidth() * 6).attr('height', cfg.barH).attr('fill', color);
  });
  // dendrogram
  const h = d3.scaleLinear().domain([0, cfg.dendro[2]]).range([cfg.top, cfg.dendroTop]);
  const walk = node => {
    if (typeof node === 'number') return {x: x(node) + x.bandwidth() / 2, h: 0};
    const a = walk(node[0]), b = walk(node[1]);
    g.append('path').attr('fill', 'none').attr('stroke', '#555').attr('stroke-width', 1.3)
      .attr('d', `M${a.x},${h(a.h)}V${h(node[2])}H${b.x}V${h(b.h)}`);
    return {x: (a.x + b.x) / 2, h: node[2]};
  };
  walk(cfg.dendro);
  // colour key
  const id = 'key' + cfg.bar.join('').replace(/#/g, '');
  const grad = svg.append('defs').append('linearGradient').attr('id', id)
    .attr('x1', 0).attr('y1', 1).attr('x2', 0).attr('y2', 0);
  heatColor.domain().forEach(v => grad.append('stop').attr('offset', (v - 2) / 4).attr('stop-color', heatColor(v)));
  const ky = d3.scaleLinear().domain([2,6]).range(cfg.keyY);
  g.append('rect').attr('x', cfg.keyX[0]).attr('width', cfg.keyX[1] - cfg.keyX[0])
    .attr('y', ky(6)).attr('height', ky(2) - ky(6)).attr('fill', `url(#${id})`);
  [2,3,4,5,6].forEach(v => label(cfg.keyX[1] + 4, ky(v), v, 11.5, {anchor: 'start'}));
}
heatmap({
  values: heatIValues, labels: heatILabels, left: 1285.3, right: 1596.5, top: 78.3, bottom: 806.7,
  labelX: 1599.3, labelFont: 11.1, bar: ['#0000FF','#FF0000'], barH: 18.3,
  dendro: dendroI, dendroTop: 27.3, keyX: [1863.7, 1874.6], keyY: [222.7, 78]
});
heatmap({
  values: heatJValues, labels: heatJLabels, left: 1280.5, right: 1599.3, top: 1063.3, bottom: 1790.7,
  labelX: 1602.5, labelFont: 11.4, bar: ['#FF0000','#008000'], barH: 18.6,
  dendro: dendroJ, dendroTop: 1009.3, keyX: [1873.4, 1884], keyY: [1216.7, 1063]
});
</script>
</body>
</html>
